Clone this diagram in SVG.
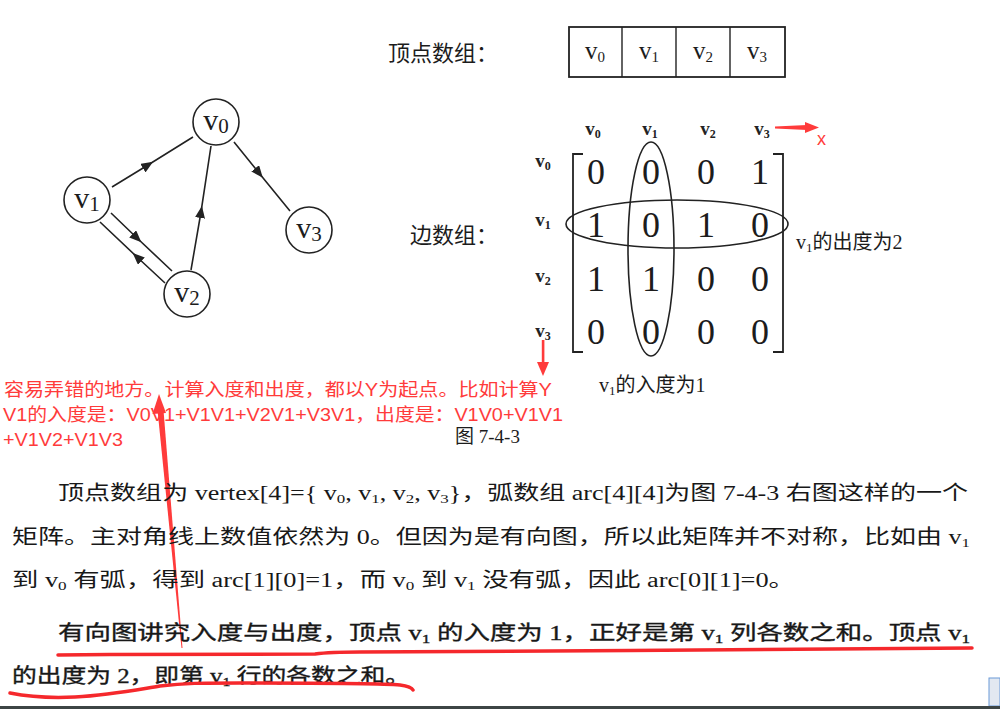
<svg xmlns="http://www.w3.org/2000/svg" width="1000" height="709" viewBox="0 0 1000 709">
<style>
text{fill:#1c1c1c}
.cjk{font-family:"Liberation Serif","Noto Sans CJK SC",serif}
.ser{font-family:"Liberation Serif",serif}
.node circle{fill:#fff;stroke:#222;stroke-width:1.6}
.edge{fill:none;stroke:#222;stroke-width:1.6;marker-mid:url(#mid)}
.red{fill:#ff3b3b}
.redt text, text.redt{font-family:"Liberation Sans","Noto Sans CJK SC",sans-serif;fill:#ff3b3b}
.ul{fill:none;stroke:#f5282c;stroke-width:3.5;stroke-linecap:round;stroke-linejoin:round}
.para text{font-family:"Liberation Serif","Noto Sans CJK SC",serif;font-size:20px;fill:#181818}
.para2 text{stroke:#181818;stroke-width:0.35}
.hdr text{font-family:"Liberation Serif",serif;font-size:19px;font-weight:bold;fill:#222}
</style>
<defs>
<marker id="mid" markerUnits="userSpaceOnUse" markerWidth="12" markerHeight="10" refX="6" refY="5" orient="auto">
<path d="M0,0 L12,5 L0,10 z" fill="#222"/>
</marker>
</defs>
<rect width="1000" height="709" fill="#fff"/>

<!-- vertex array -->
<g id="vertex-array">
<text x="388" y="61" class="cjk" font-size="22">顶点数组：</text>
<rect x="569" y="27" width="216" height="50" fill="none" stroke="#222" stroke-width="1.8"/>
<line x1="622" y1="27" x2="622" y2="77" stroke="#222" stroke-width="1.4"/>
<line x1="676" y1="27" x2="676" y2="77" stroke="#222" stroke-width="1.4"/>
<line x1="730" y1="27" x2="730" y2="77" stroke="#222" stroke-width="1.4"/>
<text class="ser" font-size="25" x="595" y="59" text-anchor="middle">v<tspan font-size="15" dy="3">0</tspan></text>
<text class="ser" font-size="25" x="649" y="59" text-anchor="middle">v<tspan font-size="15" dy="3">1</tspan></text>
<text class="ser" font-size="25" x="703" y="59" text-anchor="middle">v<tspan font-size="15" dy="3">2</tspan></text>
<text class="ser" font-size="25" x="757" y="59" text-anchor="middle">v<tspan font-size="15" dy="3">3</tspan></text>
</g>

<!-- graph connectors -->
<g id="connectors">
<path class="edge" d="M112,187 L148,165 L193,137"/>
<path class="edge" d="M234,142 L259,173 L290,211"/>
<path class="edge" d="M191,270 L201,212 L211,146"/>
<path class="edge" d="M111,213 L137,238 L172,271"/>
<path class="edge" d="M165,283 L137,257 L100,222"/>
</g>

<g id="node-v0" class="node"><circle cx="216" cy="122" r="23"/><text class="ser" font-size="30" x="216" y="130" text-anchor="middle">v<tspan font-size="21" dy="3">0</tspan></text></g>
<g id="node-v1" class="node"><circle cx="87" cy="200" r="23"/><text class="ser" font-size="30" x="87" y="208" text-anchor="middle">v<tspan font-size="21" dy="3">1</tspan></text></g>
<g id="node-v2" class="node"><circle cx="187" cy="294" r="23"/><text class="ser" font-size="30" x="187" y="302" text-anchor="middle">v<tspan font-size="21" dy="3">2</tspan></text></g>
<g id="node-v3" class="node"><circle cx="309" cy="230" r="23"/><text class="ser" font-size="30" x="309" y="238" text-anchor="middle">v<tspan font-size="21" dy="3">3</tspan></text></g>

<!-- edge array -->
<g id="edge-array">
<text x="410" y="243" class="cjk" font-size="22">边数组：</text>
<g class="hdr" text-anchor="middle">
<text x="593" y="135">v<tspan font-size="12" dy="3">0</tspan></text>
<text x="650" y="135">v<tspan font-size="12" dy="3">1</tspan></text>
<text x="708" y="135">v<tspan font-size="12" dy="3">2</tspan></text>
<text x="762" y="135">v<tspan font-size="12" dy="3">3</tspan></text>
<text x="543" y="167">v<tspan font-size="12" dy="3">0</tspan></text>
<text x="543" y="226">v<tspan font-size="12" dy="3">1</tspan></text>
<text x="543" y="282">v<tspan font-size="12" dy="3">2</tspan></text>
<text x="543" y="337">v<tspan font-size="12" dy="3">3</tspan></text>
</g>
<path d="M583,154 L573,154 L573,352 L583,352" fill="none" stroke="#222" stroke-width="1.8"/>
<path d="M773,154 L783,154 L783,352 L773,352" fill="none" stroke="#222" stroke-width="1.8"/>
<g class="ser" font-size="36" text-anchor="middle">
<text x="596" y="184">0</text><text x="651" y="184">0</text><text x="706" y="184">0</text><text x="760" y="184">1</text>
<text x="596" y="237">1</text><text x="651" y="237">0</text><text x="706" y="237">1</text><text x="760" y="237">0</text>
<text x="596" y="291">1</text><text x="651" y="291">1</text><text x="706" y="291">0</text><text x="760" y="291">0</text>
<text x="596" y="344">0</text><text x="651" y="344">0</text><text x="706" y="344">0</text><text x="760" y="344">0</text>
</g>
<ellipse cx="651" cy="249" rx="23" ry="107" fill="none" stroke="#222" stroke-width="1.6"/>
<ellipse cx="677" cy="224" rx="111" ry="24" fill="none" stroke="#222" stroke-width="1.6"/>
<text x="796" y="249" class="cjk" font-size="20">v<tspan font-size="13" dy="3">1</tspan><tspan dy="-3">的出度为2</tspan></text>
<text x="599" y="392" class="cjk" font-size="20">v<tspan font-size="13" dy="3">1</tspan><tspan dy="-3">的入度为1</tspan></text>
</g>

<!-- red axis arrows -->
<g id="axis-x">
<path d="M775,126.5 L807,125 L807,130 L775,128.5 z" class="red"/>
<path d="M805,122 L819,127.5 L805,133 z" class="red"/>
<text x="817" y="145" class="redt" font-size="18">x</text>
</g>
<g id="axis-y">
<rect x="541.8" y="340" width="2.6" height="24" class="red"/>
<path d="M537,362 L549,362 L543,376 z" class="red"/>
</g>

<!-- red annotation -->
<g id="annotation" class="redt" font-size="18">
<text x="4" y="396" textLength="548" lengthAdjust="spacingAndGlyphs">容易弄错的地方。计算入度和出度，都以Y为起点。比如计算Y</text>
<text x="3" y="421" textLength="560" lengthAdjust="spacingAndGlyphs">V1的入度是：V0V1+V1V1+V2V1+V3V1，出度是：V1V0+V1V1</text>
<text x="3" y="446" textLength="120" lengthAdjust="spacingAndGlyphs">+V1V2+V1V3</text>
</g>
<text x="455" y="443" class="cjk" font-size="19" fill="#222">图 7-4-3</text>

<!-- red pointer arrow -->
<g id="pointer">
<path d="M157.5,410 L163.5,410 L182.5,648 L181.5,648 z" class="red"/>
<path d="M159,394 L152.5,414 L166,413 z" class="red"/>
</g>

<!-- paragraphs -->
<g id="paragraph1" class="para">
<text x="58" y="500" textLength="910" lengthAdjust="spacingAndGlyphs">顶点数组为 vertex[4]={ v<tspan font-size="13" dy="3">0</tspan><tspan dy="-3">, v</tspan><tspan font-size="13" dy="3">1</tspan><tspan dy="-3">, v</tspan><tspan font-size="13" dy="3">2</tspan><tspan dy="-3">, v</tspan><tspan font-size="13" dy="3">3</tspan><tspan dy="-3">}，弧数组 arc[4][4]为图 7-4-3 右图这样的一个</tspan></text>
<text x="12" y="544" textLength="958" lengthAdjust="spacingAndGlyphs">矩阵。主对角线上数值依然为 0。但因为是有向图，所以此矩阵并不对称，比如由 v<tspan font-size="13" dy="3">1</tspan></text>
<text x="12" y="587" textLength="783" lengthAdjust="spacingAndGlyphs">到 v<tspan font-size="13" dy="3">0</tspan><tspan dy="-3"> 有弧，得到 arc[1][0]=1，而 v</tspan><tspan font-size="13" dy="3">0</tspan><tspan dy="-3"> 到 v</tspan><tspan font-size="13" dy="3">1</tspan><tspan dy="-3"> 没有弧，因此 arc[0][1]=0。</tspan></text>
</g>
<g id="paragraph2" class="para para2">
<text x="58" y="640" textLength="912" lengthAdjust="spacingAndGlyphs">有向图讲究入度与出度，顶点 v<tspan font-size="13" dy="3">1</tspan><tspan dy="-3"> 的入度为 1，正好是第 v</tspan><tspan font-size="13" dy="3">1</tspan><tspan dy="-3"> 列各数之和。顶点 v</tspan><tspan font-size="13" dy="3">1</tspan></text>
<text x="12" y="683" textLength="398" lengthAdjust="spacingAndGlyphs">的出度为 2，即第 v<tspan font-size="13" dy="3">1</tspan><tspan dy="-3"> 行的各数之和。</tspan></text>
</g>

<!-- red underlines -->
<g id="underlines">
<path class="ul" d="M58,655 C150,654 250,655 315,654 C330,652 345,652 360,652 C550,651 800,650 972,648"/>
<path class="ul" d="M10,693 C30,697 55,698 75,697 C110,695 135,690 160,686 C185,683 200,683 240,683 C320,683 380,683 400,685 C408,686 412,688 413,690"/>
</g>

<!-- screenshot frame bits -->
<rect x="989" y="678" width="11" height="28" fill="#e2e8f1" stroke="#6b9ad8" stroke-width="1"/>
<rect x="0" y="706" width="1000" height="3" fill="#3d4545"/>
</svg>
